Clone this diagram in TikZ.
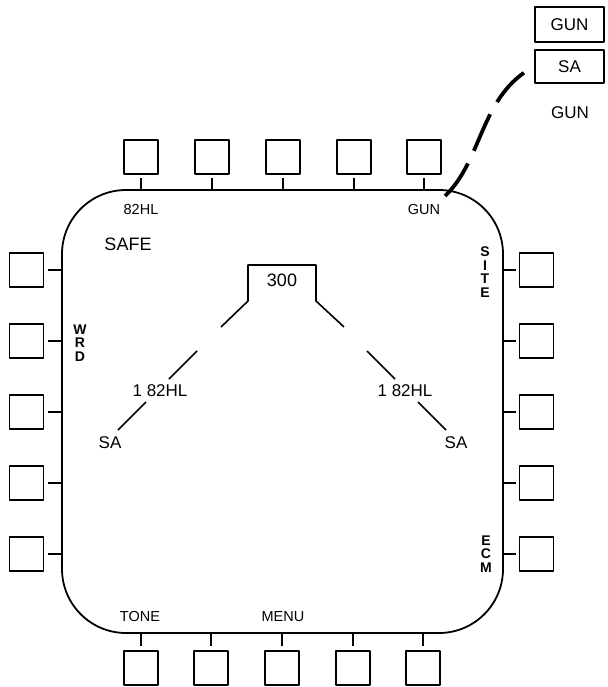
\documentclass[tikz,border=0pt]{standalone}
\usepackage{fontspec}
\setmainfont{Liberation Sans}
\usetikzlibrary{positioning}
\newcommand{\fsz}[1]{\fontsize{#1}{#1}\selectfont}

\begin{document}
\begin{tikzpicture}[x=1pt,y=-1pt,line join=round,
  btn/.style={draw,line width=1.6pt,minimum width=34pt,minimum height=34pt,inner sep=0pt},
  tick/.style={line width=1.6pt},
  frame/.style={line width=1.8pt,rounded corners=64pt},
  lbl/.style={inner sep=0pt,font=\fsz{14.5}},
  big/.style={inner sep=0pt,font=\fsz{18}},
  vert/.style={inner sep=0pt,align=center,font=\fontsize{14}{13.6}\selectfont\bfseries},
  wing/.style={line width=1.6pt},
  link/.style={line width=3.8pt,dash pattern=on 40pt off 14pt},
]
\useasboundingbox (0,0) rectangle (607,687);

% display frame
\draw[frame] (62,190) rectangle (503,633);

% bezel buttons
\foreach \i/\x in {1/141,2/212,3/283,4/354,5/424} {
  \node[btn] (top\i) at (\x,157) {};
  \coordinate (ft\i) at (\x,190);
  \draw[tick] (ft\i) -- (\x,178);
}
\foreach \i/\x in {1/141,2/211,3/282,4/353,5/423} {
  \node[btn] (bot\i) at (\x,668) {};
  \coordinate (fb\i) at (\x,633);
  \draw[tick] (fb\i) -- (\x,646);
}
\foreach \i/\y in {1/270,2/341,3/412,4/483,5/554} {
  \node[btn] (lft\i) at (26.5,\y) {};
  \coordinate (fl\i) at (62,\y);
  \draw[tick] (fl\i) -- (48,\y);
  \node[btn] (rgt\i) at (536.5,\y) {};
  \coordinate (fr\i) at (503,\y);
  \draw[tick] (fr\i) -- (516,\y);
}

% button legends
\node[lbl] (l82) at (141,210) {82HL};
\node[lbl] (lgun) at (424,210) {GUN};
\node[lbl] (ltone) at (140,617) {TONE};
\node[lbl] (lmenu) at (283,617) {MENU};
\node[vert] (lsite) at (485,272) {S\\I\\T\\E};
\node[vert] (lwrd) at (80,343) {W\\R\\D};
\node[vert] (lecm) at (486,554) {E\\C\\M};
\node[big] (safe) at (128,244) {SAFE};

% steering cue
\node[big] (alt) at (282,280) {300};
\coordinate (bl) at (248,301);
\coordinate (br) at (316,301);
\draw[wing] (221,327) -- (bl) -- (248,265) -- (316,265) -- (br) -- (344,327);
\draw[wing] (197,351) -- (169,379);
\node[big,font=\fsz{17}] (rngl) at (160,391) {1 82HL};
\draw[wing] (146,402) -- (118,430);
\node[big,font=\fsz{17}] (sal) at (110,443) {SA};
\draw[wing] (367,351) -- (395,379);
\node[big,font=\fsz{17}] (rngr) at (405,391) {1 82HL};
\draw[wing] (418,402) -- (446,430);
\node[big,font=\fsz{17}] (sar) at (456,443) {SA};

% option list
\node[btn,minimum width=69pt,minimum height=35pt,font=\fsz{17}] (optgun) at (569.5,24.5) {GUN};
\node[btn,minimum width=69pt,minimum height=33pt,font=\fsz{17}] (optsa) at (569.5,66.5) {SA};
\node[big,font=\fsz{17}] (optnext) at (570,113) {GUN};
\coordinate (cue) at (445,196);
\draw[link] (cue) .. controls (483,160) and (480,95) .. (optsa.west);
\end{tikzpicture}
\end{document}
